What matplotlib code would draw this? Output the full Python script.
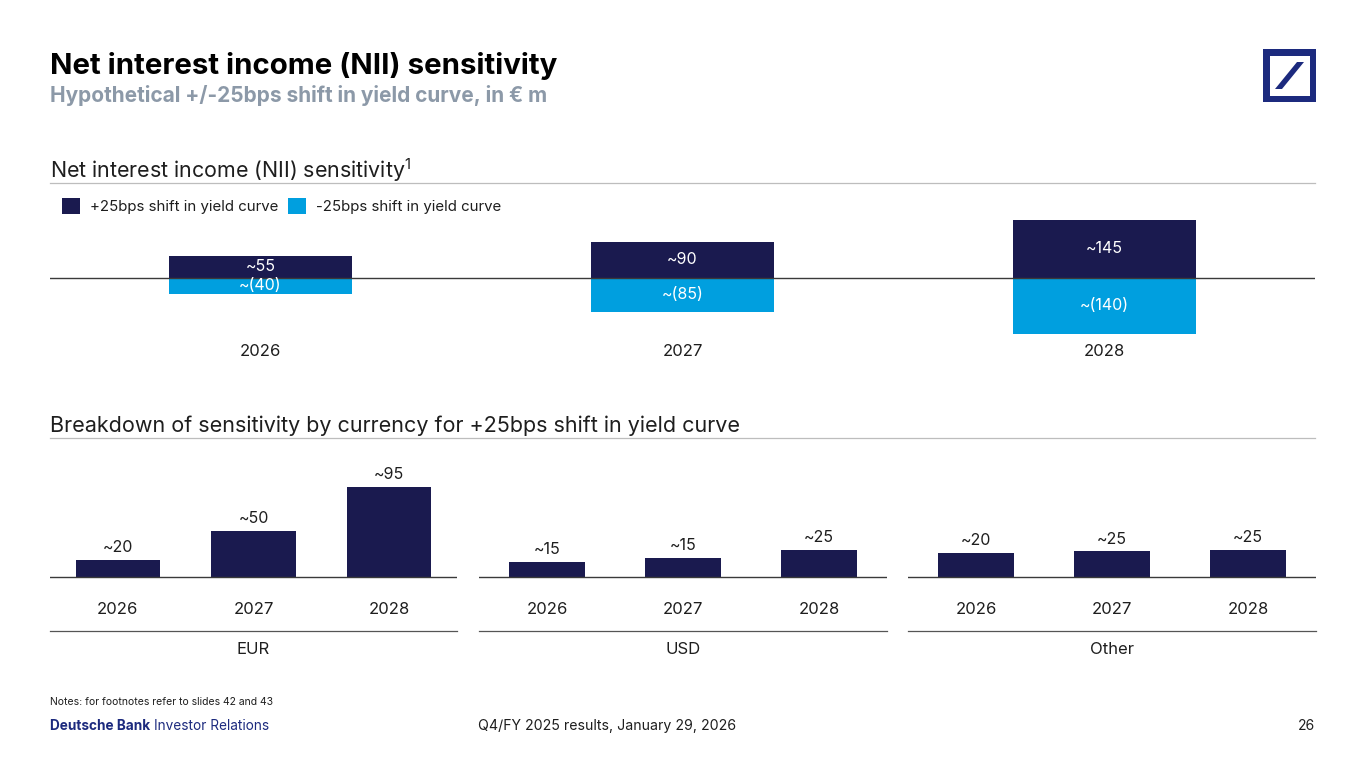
import matplotlib
matplotlib.use("Agg")
import matplotlib.pyplot as plt
from matplotlib.patches import Rectangle, Polygon
from matplotlib.lines import Line2D

plt.rcParams['font.family'] = ['Inter', 'DejaVu Sans']

# ---------------- data ----------------
years = ["2026", "2027", "2028"]
up_25 = [55, 90, 145]
down_25 = [-40, -85, -140]
up_labels = ["~55", "~90", "~145"]
down_labels = ["~(40)", "~(85)", "~(140)"]

currencies = ["EUR", "USD", "Other"]
eur_vals = [18, 49, 95]
usd_vals = [16, 20, 29]
other_vals = [25, 27, 29]
eur_labels = ["~20", "~50", "~95"]
usd_labels = ["~15", "~15", "~25"]
other_labels = ["~20", "~25", "~25"]

NAVY = "#1A1A4F"
LIGHT = "#009FDF"
GREY_LINE = "#BDBDBD"
TXT = "#1E1E1E"

W, H = 1365, 768
fig = plt.figure(figsize=(W / 100, H / 100), dpi=100)


def fx(x):
    return x / W


def fy(y):
    return 1 - y / H


def axes_px(x0, y0, x1, y1):
    return fig.add_axes([fx(x0), fy(y1), (x1 - x0) / W, (y1 - y0) / H])


# ---------------- titles ----------------
fig.text(fx(50), fy(66), "Net interest income (NII) sensitivity", fontsize=21.2,
         fontweight="bold", color="black", va="center", ha="left")
fig.text(fx(50), fy(95), "Hypothetical +/-25bps shift in yield curve, in € m", fontsize=15,
         fontweight="bold", color="#8C99A8", va="center", ha="left")

# logo
lax = axes_px(1263, 49, 1316, 102)
lax.set_xlim(0, 53)
lax.set_ylim(53, 0)
lax.axis("off")
LOGO = "#1C2A7E"
lax.add_patch(Rectangle((0, 0), 53, 53, facecolor=LOGO, edgecolor="none"))
lax.add_patch(Rectangle((6.5, 6.5), 40, 40, facecolor="white", edgecolor="none"))
lax.add_patch(Polygon([(12, 40), (19, 40), (41, 13), (34, 13)], closed=True,
                      facecolor=LOGO, edgecolor="none"))

# ---------------- section 1 ----------------
fig.text(fx(50), fy(170), "Net interest income (NII) sensitivity$^{\\mathregular{1}}$", fontsize=15.4,
         color=TXT, va="center", ha="left")
fig.add_artist(Line2D([fx(50), fx(1315)], [fy(182.5), fy(182.5)], color=GREY_LINE, lw=0.9))

# legend
fig.add_artist(Rectangle((fx(62), fy(214)), 18 / W, 16 / H, facecolor=NAVY, edgecolor="none"))
fig.text(fx(90), fy(207), "+25bps shift in yield curve", fontsize=10.8, color=TXT, va="center")
fig.add_artist(Rectangle((fx(288), fy(214)), 18 / W, 16 / H, facecolor=LIGHT, edgecolor="none"))
fig.text(fx(316), fy(207), "-25bps shift in yield curve", fontsize=10.8, color=TXT, va="center")

ax = axes_px(50, 210, 1315, 340)
scale_top = 0.4  # px per unit
ax.set_xlim(-0.4988, 2.4988)
ax.set_ylim(-(340 - 278) / scale_top, (278 - 210) / scale_top)
ax.axis("off")
xs = list(range(len(years)))
bw = 183 / 422
ax.bar(xs, up_25, width=bw, color=NAVY, zorder=2)
ax.bar(xs, down_25, width=bw, color=LIGHT, zorder=2)
ax.axhline(0, color="#3A3A3A", lw=1.0, zorder=3)
for i in xs:
    ax.text(i, up_25[i] / 2, up_labels[i], color="white", fontsize=11.5, ha="center", va="center", zorder=4)
    ax.text(i, down_25[i] / 2, down_labels[i], color="white", fontsize=11.5, ha="center", va="center", zorder=4)
    ax.text(i, -(352 - 278) / scale_top, years[i], color=TXT, fontsize=12, ha="center",
            va="center", clip_on=False)

# ---------------- section 2 ----------------
fig.text(fx(50), fy(426), "Breakdown of sensitivity by currency for +25bps shift in yield curve",
         fontsize=15.5, color=TXT, va="center", ha="left")
fig.add_artist(Line2D([fx(50), fx(1315)], [fy(437.5), fy(437.5)], color=GREY_LINE, lw=0.9))

panels = [
    (50, 457, eur_vals, eur_labels, 0.62),
    (479, 887, usd_vals, usd_labels, 0.555),
    (908, 1316, other_vals, other_labels, 0.555),
]
scale_bot = 0.947
for (x0, x1, vals, labs, w), cur in zip(panels, currencies):
    a = axes_px(x0, 455, x1, 590)
    a.set_xlim(-0.5, 2.5)
    a.set_ylim(-(590 - 577) / scale_bot, (577 - 455) / scale_bot)
    a.axis("off")
    a.bar(xs, vals, width=w, color=NAVY, zorder=2)
    a.axhline(0, color="#3A3A3A", lw=1.0, zorder=3)
    for i in xs:
        a.annotate(labs[i], (i, vals[i]), xytext=(0, 3.5), textcoords="offset points",
                   ha="center", va="bottom", fontsize=11.5, color=TXT)
        a.text(i, -(609 - 577) / scale_bot, years[i], ha="center", va="center",
               fontsize=12, color=TXT, clip_on=False)
    fig.add_artist(Line2D([fx(x0), fx(x1)], [fy(630.5), fy(630.5)], color="#555555", lw=0.9))
    fig.text(fx((x0 + x1) / 2), fy(649), cur, ha="center", va="center", fontsize=12, color=TXT)

# ---------------- footer ----------------
fig.text(fx(50), fy(702), "Notes: for footnotes refer to slides 42 and 43", fontsize=7.5,
         color=TXT, va="center")
t1 = fig.text(fx(50), fy(726), "Deutsche Bank", fontsize=9.8, fontweight="bold",
              color="#1C2A7E", va="center")
fig.canvas.draw()
bb = t1.get_window_extent()
fig.text(bb.x1 / W + 4 / W, fy(726), "Investor Relations", fontsize=9.8, color="#1C2A7E", va="center")
fig.text(fx(478), fy(726), "Q4/FY 2025 results, January 29, 2026", fontsize=10.2, color=TXT, va="center")
fig.text(fx(1315), fy(726), "26", fontsize=10, color=TXT, va="center", ha="right")

fig.savefig("out.png", dpi=100)
